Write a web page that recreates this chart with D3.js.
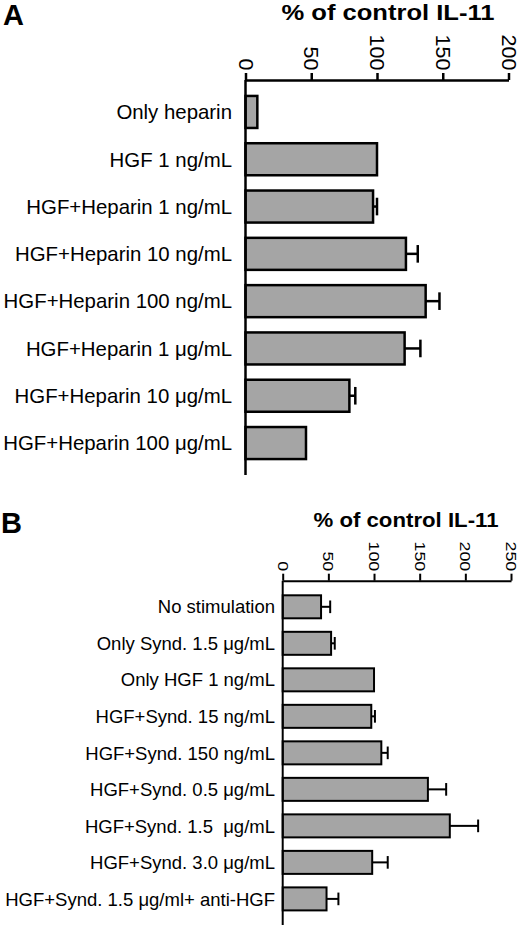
<!DOCTYPE html>
<html>
<head>
<meta charset="utf-8">
<script src="https://cdn.jsdelivr.net/npm/d3@7"></script>
<style>
  body { margin: 0; background: #fff; }
  svg { display: block; font-family: "Liberation Sans", Arial, sans-serif; }
</style>
</head>
<body>
<svg id="chart" width="520" height="927"></svg>
<script>
// panel A - heparin
const heparinLabels = [
    'Only heparin',
    'HGF 1 ng/mL',
    'HGF+Heparin 1 ng/mL',
    'HGF+Heparin 10 ng/mL',
    'HGF+Heparin 100 ng/mL',
    'HGF+Heparin 1 μg/mL',
    'HGF+Heparin 10 μg/mL',
    'HGF+Heparin 100 μg/mL'
];
const heparinValues = [9, 100, 97, 122, 137, 121, 79, 46];
const heparinErrors = [0, 0, 3, 9, 10.5, 12, 4.5, 0];
const heparinTicks = [0, 50, 100, 150, 200];

// panel B - syndecan
const syndLabels = [
    'No stimulation',
    'Only Synd. 1.5 μg/mL',
    'Only HGF 1 ng/mL',
    'HGF+Synd. 15 ng/mL',
    'HGF+Synd. 150 ng/mL',
    'HGF+Synd. 0.5 μg/mL',
    'HGF+Synd. 1.5  μg/mL',
    'HGF+Synd. 3.0 μg/mL',
    'HGF+Synd. 1.5 μg/ml+ anti-HGF'
];
const syndValues = [42, 53, 100, 97, 108, 159, 183, 98, 48];
const syndErrors = [10, 4, 0, 4, 7, 20, 31, 17, 13];
const syndTicks = [0, 50, 100, 150, 200, 250];

const axisTitle = '% of control IL-11';

const svg = d3.select('#chart');

function drawPanel(o) {
    const x = d3.scaleLinear().domain([0, d3.max(o.ticks)]).range(o.xRange);
    const y = d3.scaleBand()
        .domain(o.labels)
        .range(o.yRange)
        .paddingInner(o.padIn)
        .paddingOuter(o.padOut);

    const rows = o.labels.map((label, i) => ({ label, value: o.values[i], err: o.errors[i] }));
    const g = svg.append('g');

    g.append('text')
        .attr('x', o.letterPos[0])
        .attr('y', o.letterPos[1])
        .attr('font-size', 29)
        .attr('font-weight', 'bold')
        .text(o.letter);

    g.append('text')
        .attr('x', o.titlePos[0])
        .attr('y', o.titlePos[1])
        .attr('text-anchor', 'middle')
        .attr('font-size', o.titleSize)
        .attr('font-weight', 'bold')
        .attr('textLength', o.titleWidth)
        .attr('lengthAdjust', 'spacingAndGlyphs')
        .text(axisTitle);

    // top axis, labels turned to read downwards
    const stretch = o.tickStretch;
    const axis = g.append('g')
        .attr('transform', `translate(0,${o.yRange[0]})`)
        .call(d3.axisTop(x).tickValues(o.ticks).tickSize(7).tickSizeOuter(0))
        .attr('font-family', null)
        .attr('font-size', null);
    axis.select('.domain').attr('stroke', '#000').attr('stroke-width', o.stroke);
    axis.selectAll('.tick line').attr('stroke', '#000').attr('stroke-width', o.stroke);
    axis.selectAll('.tick text')
        .attr('transform', `rotate(90) scale(${stretch},1)`)
        .attr('x', -9.5 / stretch)
        .attr('y', 0)
        .attr('dy', '0.36em')
        .attr('text-anchor', 'end')
        .attr('font-size', o.tickSize)
        .attr('fill', '#000');

    g.selectAll('rect.bar')
        .data(rows)
        .enter()
        .append('rect')
        .attr('class', 'bar')
        .attr('x', x(0))
        .attr('y', d => y(d.label))
        .attr('width', d => x(d.value) - x(0))
        .attr('height', y.bandwidth())
        .attr('fill', '#a5a5a5')
        .attr('stroke', '#000')
        .attr('stroke-width', o.stroke);

    const errRows = rows.filter(d => d.err > 0);
    const cap = y.bandwidth() * 0.55;

    g.selectAll('line.err')
        .data(errRows)
        .enter()
        .append('line')
        .attr('class', 'err')
        .attr('x1', d => x(d.value))
        .attr('x2', d => x(d.value + d.err))
        .attr('y1', d => y(d.label) + y.bandwidth() / 2)
        .attr('y2', d => y(d.label) + y.bandwidth() / 2)
        .attr('stroke', '#000')
        .attr('stroke-width', o.stroke);

    g.selectAll('line.cap')
        .data(errRows)
        .enter()
        .append('line')
        .attr('class', 'cap')
        .attr('x1', d => x(d.value + d.err))
        .attr('x2', d => x(d.value + d.err))
        .attr('y1', d => y(d.label) + y.bandwidth() / 2 - cap / 2)
        .attr('y2', d => y(d.label) + y.bandwidth() / 2 + cap / 2)
        .attr('stroke', '#000')
        .attr('stroke-width', o.stroke);

    // vertical axis line
    g.append('line')
        .attr('x1', x(0))
        .attr('x2', x(0))
        .attr('y1', o.yRange[0])
        .attr('y2', o.yRange[1])
        .attr('stroke', '#000')
        .attr('stroke-width', o.stroke);

    g.selectAll('text.label')
        .data(rows)
        .enter()
        .append('text')
        .attr('class', 'label')
        .attr('x', o.labelX)
        .attr('y', d => y(d.label) + y.bandwidth() / 2)
        .attr('dy', '0.36em')
        .attr('text-anchor', 'end')
        .attr('font-size', o.labelSize)
        .style('white-space', 'pre')
        .text(d => d.label);
}

drawPanel({
    letter: 'A',
    letterPos: [3, 25],
    labels: heparinLabels,
    values: heparinValues,
    errors: heparinErrors,
    ticks: heparinTicks,
    xRange: [245.5, 508.5],
    yRange: [80, 475],
    padIn: 0.323,
    padOut: 0.337,
    titlePos: [388, 20],
    titleSize: 22,
    titleWidth: 213,
    tickSize: 20.5,
    tickStretch: 1.05,
    labelX: 232,
    labelSize: 20.4,
    stroke: 2.5
});

drawPanel({
    letter: 'B',
    letterPos: [1, 533],
    labels: syndLabels,
    values: syndValues,
    errors: syndErrors,
    ticks: syndTicks,
    xRange: [282.7, 511],
    yRange: [580.7, 925],
    padIn: 0.37,
    padOut: 0.40,
    titlePos: [406, 527],
    titleSize: 21,
    titleWidth: 185,
    tickSize: 15.5,
    tickStretch: 1.15,
    labelX: 275,
    labelSize: 18.5,
    stroke: 2
});
</script>
</body>
</html>
